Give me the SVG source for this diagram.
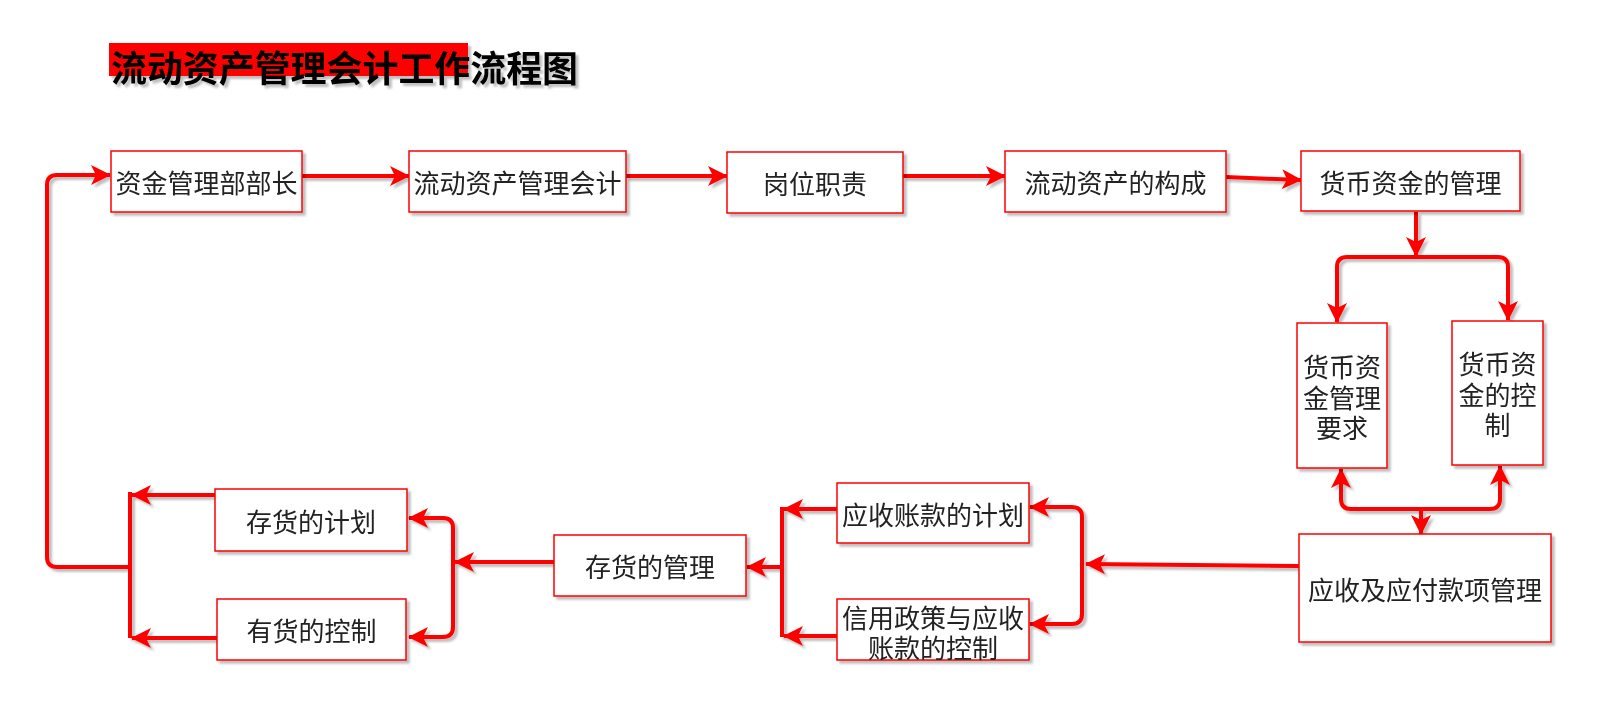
<svg xmlns="http://www.w3.org/2000/svg" width="1607" height="714" viewBox="0 0 1607 714">
<style>
.box{fill:#fff;stroke:#ff0000;stroke-width:1.5}
.lbl{font-family:"Noto Sans CJK SC","Noto Sans",sans-serif;font-size:26px;fill:#222;text-anchor:middle;dominant-baseline:central}
.e{fill:none;stroke:#ff0000;stroke-width:4;stroke-linejoin:round}
.ea{marker-end:url(#ar)}
.eb{marker-start:url(#ar);marker-end:url(#ar)}
.title{font-family:"Noto Sans CJK SC",sans-serif;font-size:36px;font-weight:bold;fill:#000;dominant-baseline:central}
</style>
<defs>
<filter id="sh" filterUnits="userSpaceOnUse" x="0" y="0" width="1607" height="714">
<feDropShadow dx="3" dy="3" stdDeviation="1" flood-color="#000" flood-opacity="0.25"/>
</filter>
<marker id="ar" viewBox="0 0 20 20" refX="19" refY="10" markerWidth="20" markerHeight="20" markerUnits="userSpaceOnUse" orient="auto-start-reverse">
<path d="M0,0 L20,10 L0,20 L5,10 Z" fill="#ff0000"/>
</marker>
</defs>
<rect x="0" y="0" width="1607" height="714" fill="#fff"/>
<g id="title" filter="url(#sh)">
<rect x="109" y="43" width="359" height="33" fill="#ff0000"/>
<text class="title" x="111" y="66" textLength="467" lengthAdjust="spacingAndGlyphs">流动资产管理会计工作流程图</text>
</g>
<g id="edges" filter="url(#sh)">
<path class="e ea" d="M302,176 H409"/>
<path class="e ea" d="M626,176 H727"/>
<path class="e ea" d="M903,176 H1005"/>
<path class="e ea" d="M1226,177 L1301,180"/>
<path class="e ea" d="M1416,212 V256"/>
<path class="e eb" d="M1337,322 V267 Q1337,257 1347,257 H1498 Q1508,257 1508,267 V320"/>
<path class="e eb" d="M1341,469 V499 Q1341,509 1351,509 H1490 Q1500,509 1500,499 V466"/>
<path class="e ea" d="M1421,509 V534"/>
<path class="e ea" d="M1299,566 L1086,564"/>
<path class="e eb" d="M1030,507 H1072 Q1082,507 1082,517 V614 Q1082,624 1072,624 H1030"/>
<path class="e" d="M782,507 V637"/>
<path class="e ea" d="M837,509 H784"/>
<path class="e ea" d="M837,636 H784"/>
<path class="e ea" d="M782,567 H747"/>
<path class="e ea" d="M554,562 H455"/>
<path class="e eb" d="M409,518 H443 Q453,518 453,528 V627 Q453,637 443,637 H409"/>
<path class="e" d="M130,492 V638"/>
<path class="e ea" d="M215,495 H132"/>
<path class="e ea" d="M217,638 H132"/>
<path class="e ea" d="M130,567 H57 Q47,567 47,557 V185 Q47,175 57,175 H110"/>
</g>
<g id="nodes" filter="url(#sh)">
<g id="n1"><rect class="box" x="111" y="151" width="191" height="61"/><text class="lbl" x="206.5" y="181.5">资金管理部部长</text></g>
<g id="n2"><rect class="box" x="409" y="151" width="217" height="61"/><text class="lbl" x="517.5" y="181.5">流动资产管理会计</text></g>
<g id="n3"><rect class="box" x="727" y="152" width="176" height="61"/><text class="lbl" x="815" y="182.5">岗位职责</text></g>
<g id="n4"><rect class="box" x="1005" y="151" width="221" height="61"/><text class="lbl" x="1115.5" y="181.5">流动资产的构成</text></g>
<g id="n5"><rect class="box" x="1301" y="151" width="219" height="60"/><text class="lbl" x="1410.5" y="181">货币资金的管理</text></g>
<g id="n6"><rect class="box" x="1297" y="323" width="90" height="145"/><text class="lbl" x="1342" y="365">货币资</text><text class="lbl" x="1342" y="396">金管理</text><text class="lbl" x="1342" y="426">要求</text></g>
<g id="n7"><rect class="box" x="1452" y="321" width="91" height="144"/><text class="lbl" x="1497.5" y="362">货币资</text><text class="lbl" x="1497.5" y="393">金的控</text><text class="lbl" x="1497.5" y="423">制</text></g>
<g id="n8"><rect class="box" x="1299" y="534" width="252" height="108"/><text class="lbl" x="1425" y="588">应收及应付款项管理</text></g>
<g id="n9"><rect class="box" x="837" y="483" width="192" height="60"/><text class="lbl" x="933" y="513">应收账款的计划</text></g>
<g id="n10"><rect class="box" x="837" y="599" width="192" height="61"/><text class="lbl" x="933" y="616">信用政策与应收</text><text class="lbl" x="933" y="646">账款的控制</text></g>
<g id="n11"><rect class="box" x="554" y="535" width="192" height="61"/><text class="lbl" x="650" y="565.5">存货的管理</text></g>
<g id="n12"><rect class="box" x="215" y="489" width="192" height="62"/><text class="lbl" x="311" y="520">存货的计划</text></g>
<g id="n13"><rect class="box" x="217" y="599" width="189" height="61"/><text class="lbl" x="311.5" y="629.5">有货的控制</text></g>
</g>
</svg>
